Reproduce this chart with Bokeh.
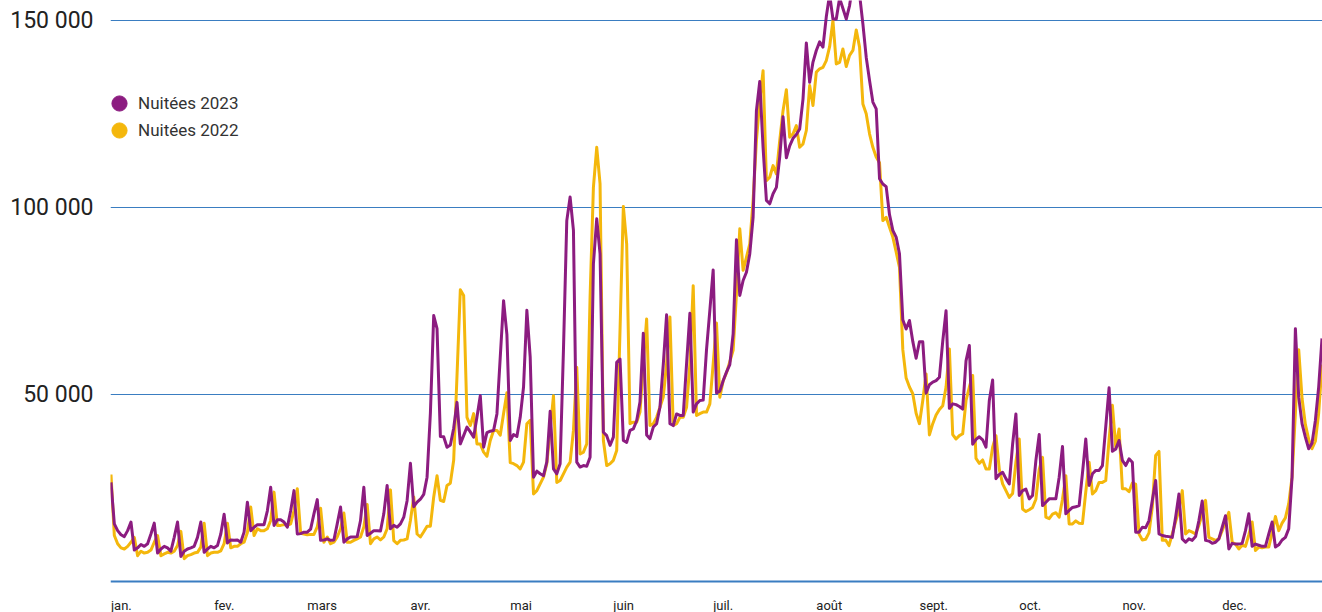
from bokeh.plotting import figure
from bokeh.models import Range1d, FixedTicker, Span, Legend, LegendItem
from bokeh.core.properties import value
from bokeh.embed import file_html
from bokeh.resources import INLINE

month_labels = ["jan.", "fev.", "mars", "avr.", "mai", "juin",
                "juil.", "août", "sept.", "oct.", "nov.", "dec."]
month_lengths = [31, 28, 31, 30, 31, 30, 31, 31, 30, 31, 30, 31]

y_ticks = [50000, 100000, 150000]
y_tick_labels = ["50 000", "100 000", "150 000"]

series_labels = ["Nuitées 2023", "Nuitées 2022"]

nuitees_2023 = [
    # jan
    26500, 15400, 13600, 12500, 12000, 13600, 15900, 8400, 9000, 9900, 9400, 10100, 12700, 15600,
    7600, 8700, 9400, 9000, 8100, 11800, 15900, 6700, 8100, 8700, 9000, 9400, 11800, 15900,
    7800, 8700, 9400,
    # fev
    9000, 9600, 12700, 18000, 10300, 11100, 11000, 11100, 10500, 13200, 21200, 13600, 14500, 15200,
    15200, 15200, 18900, 25200, 15000, 16500, 16500, 15900, 14500, 18900, 24300, 12700, 12800, 13200,
    # mars
    13200, 14000, 18100, 21900, 11000, 11100, 11400, 11000, 11100, 15400, 19900, 10500, 11400, 11900,
    11900, 12000, 16300, 25200, 12300, 12900, 13600, 13600, 13500, 18100, 25700, 14100, 15000, 14500,
    15400, 17200, 21600,
    # avr
    31600, 20000, 21200, 22000, 23300, 27900, 45000, 71100, 67600, 38800, 38700, 35900, 36500, 41000,
    47900, 36800, 39000, 41300, 40000, 38600, 44000, 49700, 35900, 39800, 40200, 40400, 44800, 60000,
    75100, 66000,
    # mai
    37700, 39300, 38800, 43900, 52000, 72500, 60000, 27900, 29500, 28800, 28300, 32000, 45500, 30100,
    28800, 31500, 62000, 96500, 102800, 93900, 31900, 30600, 31000, 30800, 33200, 84900, 97000, 87600,
    39900, 39000, 36400,
    # juin
    38600, 58600, 59500, 37700, 37200, 40400, 40800, 43000, 48000, 66400, 39200, 38200, 41300, 42200,
    46600, 58000, 71300, 42200, 41700, 44800, 44400, 44400, 58200, 71700, 45300, 47500, 48400, 48500,
    62000, 72500,
    # juil
    83300, 50400, 50900, 53700, 56000, 58000, 66200, 91400, 76500, 80500, 82700, 87600, 97400, 125900,
    133700, 116000, 101900, 101000, 103700, 105400, 113500, 124300, 113300, 116500, 118500, 119500, 121000, 129000,
    144000, 133500, 138900,
    # aout
    142000, 144300, 142900, 151000, 157000, 150400, 150400, 156000, 153200, 150400, 154000, 160000, 161000, 157000,
    149100, 140200, 134000, 128200, 126400, 107700, 106300, 105600, 98100, 93900, 92100, 87600, 70000, 67500,
    69800, 64200, 59700,
    # sept
    64100, 64100, 50400, 52600, 53300, 53700, 54600, 64200, 72400, 46300, 47500, 47300, 46800, 46100,
    59000, 63100, 36700, 38000, 38700, 37900, 35900, 48400, 53900, 27500, 28600, 29200, 27500, 26100,
    36700, 44800,
    # oct
    23000, 24300, 24700, 22100, 23000, 32400, 39300, 20300, 21200, 22100, 22100, 22100, 27900, 36100,
    18100, 19000, 19800, 20000, 20300, 29000, 38100, 25700, 28800, 29700, 29700, 31000, 41400, 51800,
    34800, 35400, 37700,
    # nov
    32400, 31000, 32800, 31900, 13200, 13200, 14500, 14400, 16300, 21700, 27000, 12700, 12300, 12100,
    12000, 11800, 17200, 23400, 11400, 10500, 11400, 11000, 12000, 16300, 21500, 11000, 10800, 10200,
    10500, 11400,
    # dec
    14500, 17600, 8700, 10200, 10000, 10000, 10200, 13600, 18100, 9400, 10000, 9700, 9400, 9400,
    12700, 15900, 9200, 9800, 11100, 11800, 14100, 28000, 67600, 49300, 42200, 38600, 35500, 37000,
    43000, 52000, 65000,
]

nuitees_2022 = [
    # jan
    28600, 12300, 10100, 9000, 8700, 9400, 10500, 11800, 6900, 8100, 7600, 7800, 8400, 10500,
    12300, 6900, 7400, 7800, 7600, 8100, 9600, 13400, 6100, 6900, 7200, 7600, 7800, 9200,
    15600, 6900, 7600,
    # fev
    7800, 7800, 8200, 10100, 15600, 9000, 9400, 9400, 10100, 10500, 13100, 19900, 12300, 14100,
    13600, 13600, 14100, 16300, 23900, 15000, 15000, 15200, 15000, 15400, 18900, 24800, 12900, 12700,
    # mars
    12500, 12600, 12600, 14600, 19600, 10500, 11900, 10100, 10500, 11900, 14100, 18300, 10500, 10500,
    11000, 11400, 11900, 14600, 20600, 10100, 11400, 11900, 11100, 11900, 14100, 24500, 10900, 10100,
    11000, 11100, 11400,
    # avr
    16300, 22600, 12700, 11900, 13300, 14800, 14800, 22600, 28300, 21700, 21400, 25700, 26300, 32400,
    55000, 78000, 76500, 43900, 41700, 44900, 36800, 36800, 34600, 33500, 37700, 40400, 40400, 39100,
    44900, 50500,
    # mai
    31800, 31500, 31000, 30100, 31900, 42200, 43100, 23400, 24300, 26100, 27900, 31500, 40400, 49700,
    26500, 27000, 28800, 30600, 31900, 40400, 57300, 34100, 34600, 36800, 76000, 105400, 116100, 106300,
    37700, 31000, 31500,
    # juin
    32400, 35000, 67100, 100300, 90300, 42200, 42600, 42600, 45300, 58200, 70200, 41700, 42200, 43900,
    46600, 49300, 58200, 70700, 41700, 42200, 43900, 43900, 46600, 58200, 79100, 44400, 44900, 45300,
    45300, 47500,
    # juil
    58200, 69100, 49300, 53700, 55800, 58800, 61800, 77000, 94300, 83200, 86700, 90300, 101900, 117900,
    128600, 136600, 107200, 108100, 111200, 109000, 117900, 125900, 131500, 118800, 119700, 121900, 116100, 117000,
    120600, 132600, 127300,
    # aout
    136200, 137100, 137500, 139300, 143000, 150000, 138400, 138800, 142400, 137700, 140700, 142000, 147500, 142900,
    127700, 125100, 119700, 116100, 113500, 112000, 96500, 97400, 94700, 92100, 88100, 84000, 62000, 54400,
    52000, 50200, 45000,
    # sept
    42200, 48400, 55500, 39200, 42200, 44500, 46000, 47000, 52000, 62200, 39300, 38100, 39000, 39500,
    48400, 52000, 55100, 32900, 31600, 32500, 30100, 30100, 35900, 39000, 30000, 26100, 24300, 22500,
    23500, 32000,
    # oct
    38100, 19400, 18700, 19200, 19800, 22000, 30000, 33200, 17200, 16800, 18000, 18400, 17200, 22000,
    28300, 15400, 15400, 16200, 15600, 15500, 24000, 31900, 23400, 24300, 26500, 26500, 27000, 38000,
    47100, 35900, 40800,
    # nov
    24800, 24800, 24000, 26300, 26000, 12700, 11100, 11300, 13000, 20000, 33700, 34800, 11000, 11100,
    9600, 12700, 16000, 19000, 24300, 12700, 13600, 13200, 12700, 15000, 18000, 21700, 11800, 11400,
    11000, 11400,
    # dec
    13600, 16000, 18500, 10500, 10000, 8700, 9700, 9400, 12500, 15900, 8300, 9200, 9000, 9200,
    9200, 13000, 17400, 13600, 15600, 17000, 20800, 27900, 45000, 62000, 49000, 42000, 38000, 35500,
    37500, 45000, 58000,
]

PURPLE = "#8C1C80"
YELLOW = "#F4B70C"
BLUE = "#3A7DC1"
TEXT = "#222222"

days = list(range(len(nuitees_2023)))
month_starts = [sum(month_lengths[:i]) for i in range(12)]

p = figure(width=1322, height=612, output_backend="svg", toolbar_location=None,
           x_range=Range1d(-0.15, len(days) - 1 + 0.15),
           y_range=Range1d(-8290, 155360),
           x_axis_location=None,
           min_border_left=110, min_border_right=0, min_border_top=0, min_border_bottom=0,
           outline_line_color=None, background_fill_color="white",
           border_fill_color="white")

# y axis
yax = p.yaxis[0]
yax.ticker = FixedTicker(ticks=y_ticks)
yax.major_label_overrides = {t: lab for t, lab in zip(y_ticks, y_tick_labels)}
yax.axis_line_color = None
yax.major_tick_line_color = None
yax.minor_tick_line_color = None
yax.major_tick_out = 0
yax.major_tick_in = 0
yax.major_label_standoff = 17
yax.major_label_text_font = "Roboto"
yax.major_label_text_font_size = "23px"
yax.major_label_text_color = TEXT

p.ygrid.ticker = FixedTicker(ticks=y_ticks)
p.ygrid.grid_line_color = BLUE
p.ygrid.grid_line_width = 1
p.xgrid.grid_line_color = None

p.add_layout(Span(location=0, dimension="width", line_color=BLUE, line_width=2))

r22 = p.line(days, nuitees_2022, line_color=YELLOW, line_width=3, line_join="round")
r23 = p.line(days, nuitees_2023, line_color=PURPLE, line_width=3, line_join="round")

# month labels (left aligned at month start)
p.text(x=month_starts, y=[-6300] * len(month_starts), text=month_labels,
       text_font=value("Roboto"), text_font_size="13px", text_color=TEXT,
       text_align="left", text_baseline="alphabetic")

# legend markers: hidden scatter renderers over the same series
m23 = p.scatter(days, nuitees_2023, marker="circle", fill_color=PURPLE,
                line_color=PURPLE, visible=False)
m22 = p.scatter(days, nuitees_2022, marker="circle", fill_color=YELLOW,
                line_color=YELLOW, visible=False)

for label, rend, loc_y in zip(series_labels, [m23, m22], [490, 463]):
    leg = Legend(items=[LegendItem(label=label, renderers=[rend])],
                 location=(-10, loc_y), orientation="vertical",
                 glyph_width=38, glyph_height=38, spacing=0, padding=0, margin=0,
                 label_standoff=0, label_text_font="Roboto", label_text_font_size="17px",
                 label_text_color="#333333", label_text_baseline="middle",
                 background_fill_alpha=0, border_line_color=None,
                 inactive_fill_alpha=0)
    p.add_layout(leg, "center")

open("out.html", "w").write(file_html(p, INLINE))
